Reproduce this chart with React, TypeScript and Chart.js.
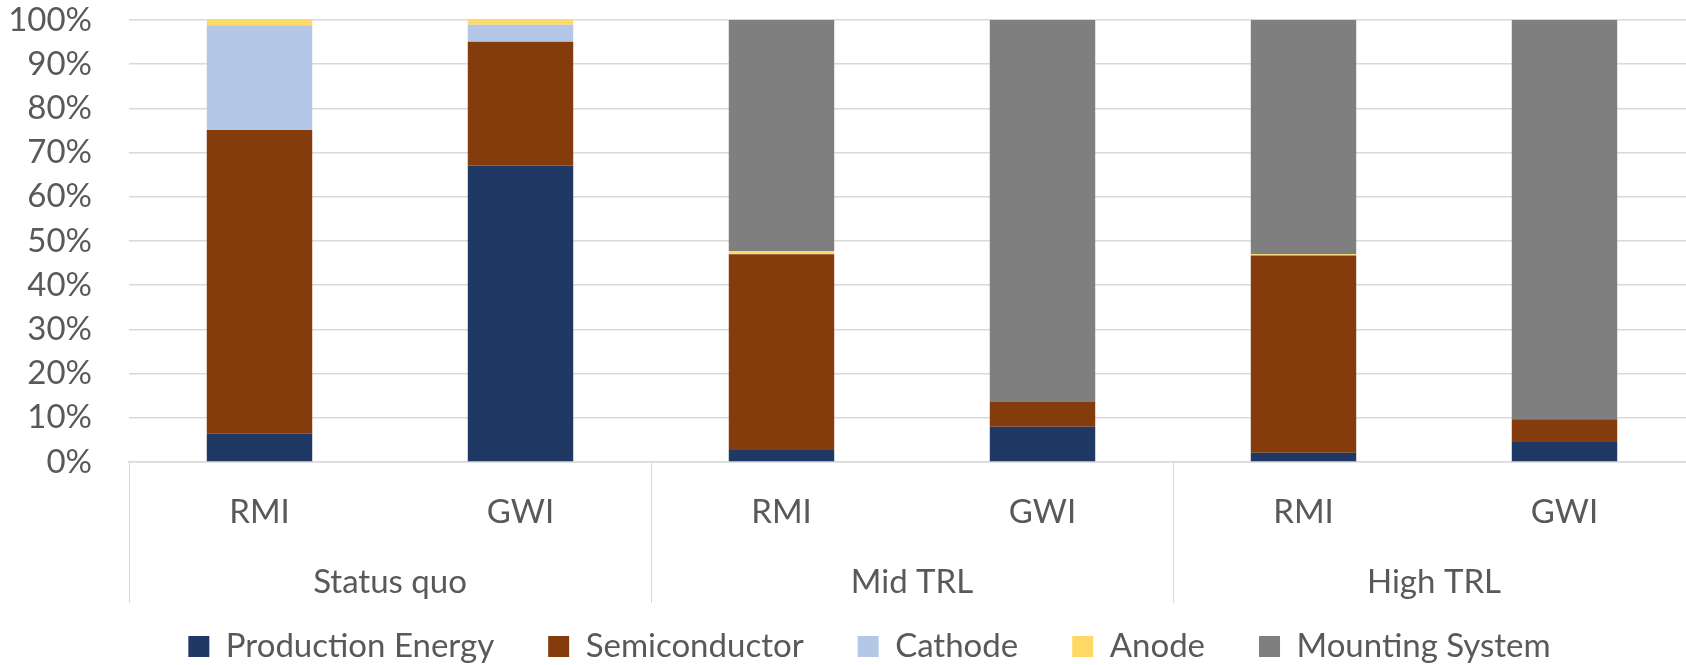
import { useEffect, useRef } from 'react';
import { Chart, registerables } from 'chart.js';

Chart.register(...registerables);

// Scenario groups and the two impact methods shown under each one
const scenarioGroups = ['Status quo', 'Mid TRL', 'High TRL'];
const methods = ['RMI', 'GWI', 'RMI', 'GWI', 'RMI', 'GWI'];

// Share of the total (%) per component, one value per bar
const productionEnergy = [6.4, 67.1, 2.7, 8.0, 2.1, 4.5];
const semiconductor = [68.7, 28.0, 44.3, 5.6, 44.6, 5.2];
const cathode = [23.7, 3.8, 0.2, 0, 0, 0];
const anode = [1.2, 1.1, 0.5, 0, 0.3, 0];
const mountingSystem = [0, 0, 52.3, 86.4, 53.0, 90.3];

// Value axis ticks (%)
const yMin = 0;
const yMax = 100;
const yStep = 10;

const TEXT = '#595959';
const GRID = '#D9D9D9';
const FONT = { family: 'Lato, "Open Sans", sans-serif', size: 33 };
const LEGEND_GAP = 54;

// Vertical separators between the scenario groups, running under the axis
const groupSeparators = {
  id: 'groupSeparators',
  afterDraw(chart: any) {
    const xs = chart.scales.x;
    const gs = chart.scales.group;
    const { ctx } = chart;
    const n = scenarioGroups.length;
    ctx.save();
    ctx.strokeStyle = GRID;
    ctx.lineWidth = 1;
    for (let k = 0; k <= n; k++) {
      const x = Math.round(xs.left + (k * xs.width) / n) + 0.5;
      ctx.beginPath();
      ctx.moveTo(x, xs.top);
      ctx.lineTo(x, gs.bottom);
      ctx.stroke();
    }
    ctx.restore();
  },
};

// Legend row: fixed box height, centred under the plot and lifted onto its own line
const legendPlacement = {
  id: 'legendPlacement',
  beforeInit(chart: any) {
    const legend = chart.legend;
    if (!legend) return;
    const fit = legend.fit;
    legend.fit = function () {
      fit.call(legend);
      this.height = 62;
    };
  },
  afterLayout(chart: any) {
    const legend = chart.legend;
    if (!legend) return;
    legend.left += 44;
    legend.top -= LEGEND_GAP - 27;
  },
};

export default function App() {
  const canvasRef = useRef<HTMLCanvasElement | null>(null);

  useEffect(() => {
    if (!canvasRef.current) return;
    const chart = new Chart(canvasRef.current, {
      type: 'bar',
      data: {
        labels: methods,
        datasets: [
          { label: 'Production Energy', data: productionEnergy, backgroundColor: '#203864' },
          { label: 'Semiconductor', data: semiconductor, backgroundColor: '#843C0C' },
          { label: 'Cathode', data: cathode, backgroundColor: '#B4C7E7' },
          { label: 'Anode', data: anode, backgroundColor: '#FFD966' },
          { label: 'Mounting System', data: mountingSystem, backgroundColor: '#7F7F7F' },
        ],
      },
      options: {
        responsive: false,
        animation: false,
        devicePixelRatio: 1,
        layout: { padding: { left: 0, top: 20, right: 1, bottom: 0 } },
        datasets: {
          bar: { barPercentage: 0.404, categoryPercentage: 1, borderWidth: 0 },
        },
        scales: {
          x: {
            stacked: true,
            weight: 0,
            grid: { display: false, drawTicks: false },
            border: { display: true, color: GRID, width: 1.5 },
            ticks: { color: TEXT, font: FONT, padding: 31, maxRotation: 0 },
            afterFit: (s: any) => {
              s.height = 90;
            },
          },
          group: {
            type: 'category',
            position: 'bottom',
            labels: scenarioGroups,
            offset: true,
            weight: 1,
            grid: { display: false, drawTicks: false },
            border: { display: false },
            ticks: { color: TEXT, font: FONT, padding: 11, maxRotation: 0 },
            afterFit: (s: any) => {
              s.height = 51;
            },
          },
          y: {
            stacked: true,
            min: yMin,
            max: yMax,
            grid: { color: GRID, lineWidth: 1.5, drawTicks: false },
            border: { display: false },
            ticks: {
              stepSize: yStep,
              autoSkip: false,
              color: TEXT,
              font: FONT,
              padding: 37,
              callback: (v: any) => `${v}%`,
            },
            afterFit: (s: any) => {
              s.width = 129;
              s.paddingTop = 0;
              s.paddingBottom = 0;
            },
          },
        },
        plugins: {
          legend: {
            position: 'bottom',
            labels: {
              color: TEXT,
              font: FONT,
              boxWidth: 21,
              boxHeight: 21,
              padding: LEGEND_GAP,
            },
          },
          tooltip: { enabled: false },
        },
      },
      plugins: [groupSeparators, legendPlacement],
    } as any);
    return () => chart.destroy();
  }, []);

  return (
    <div
      style={{
        position: 'fixed',
        left: 0,
        top: 0,
        width: 1686,
        height: 665,
        overflow: 'hidden',
        background: '#fff',
      }}
    >
      <canvas ref={canvasRef} width={1696} height={665} style={{ display: 'block' }} />
    </div>
  );
}
